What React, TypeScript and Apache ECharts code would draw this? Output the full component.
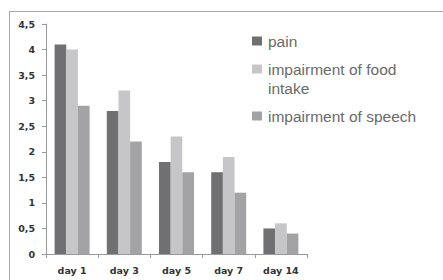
import React, { useEffect, useRef } from "react";
import * as echarts from "echarts";

const categories = ["day 1", "day 3", "day 5", "day 7", "day 14"];
const seriesNames = ["pain", "impairment of food intake", "impairment of speech"];
const legendLines = [["pain"], ["impairment of food", "intake"], ["impairment of speech"]];
const pain = [4.1, 2.8, 1.8, 1.6, 0.5];
const food = [4.0, 3.2, 2.3, 1.9, 0.6];
const speech = [2.9, 2.2, 1.6, 1.2, 0.4];
const colors = ["#707073", "#c6c6c8", "#a3a3a5"];

export default function App() {
  const ref = useRef<HTMLDivElement>(null);
  useEffect(() => {
    if (!ref.current) return;
    const chart = echarts.init(ref.current, null, { renderer: "svg" });
    const legendTops = [41, 69, 116];
    const graphic: any[] = [
      { type: "line", shape: { x1: 9, y1: 11.5, x2: 443, y2: 11.5 }, style: { stroke: "#a8a8a8", lineWidth: 1 } },
      { type: "line", shape: { x1: 9.5, y1: 11, x2: 9.5, y2: 280 }, style: { stroke: "#a8a8a8", lineWidth: 1 } },
    ];
    legendLines.forEach((lines, i) => {
      graphic.push({
        type: "rect",
        shape: { x: 252, y: legendTops[i] - 4.5, width: 10, height: 9 },
        style: { fill: colors[i] },
      });
      lines.forEach((ln, j) => {
        graphic.push({
          type: "text",
          x: 268,
          y: legendTops[i] + j * 19,
          style: {
            text: ln,
            fill: "#6a6a6a",
            font: "15.5px 'Liberation Sans', Arial, sans-serif",
            verticalAlign: "middle",
            textAlign: "left",
          },
        });
      });
    });
    const data = [pain, food, speech];
    const labelFont = {
      color: "#333",
      fontWeight: "bold" as const,
      fontSize: 9.5,
      fontFamily: "'DejaVu Sans', Verdana, sans-serif",
      margin: 11,
    };
    chart.setOption({
      animation: false,
      grid: { left: 46, top: 24, width: 261, height: 230 },
      xAxis: {
        type: "category",
        data: categories,
        axisLine: { lineStyle: { color: "#999" } },
        axisTick: { show: true, length: 4, lineStyle: { color: "#999" } },
        axisLabel: { ...labelFont },
      },
      yAxis: {
        type: "value",
        min: 0,
        max: 4.5,
        interval: 0.5,
        splitLine: { show: false },
        axisLine: { show: true, lineStyle: { color: "#999" } },
        axisTick: { show: true, length: 4, lineStyle: { color: "#999" } },
        axisLabel: {
          ...labelFont,
          formatter: (v: number) => String(v).replace(".", ","),
        },
      },
      series: data.map((d, i) => ({
        name: seriesNames[i],
        type: "bar",
        data: d,
        barGap: "0%",
        barCategoryGap: "33%",
        itemStyle: { color: colors[i] },
      })),
      graphic,
    });
    return () => chart.dispose();
  }, []);
  return (
    <div
      ref={ref}
      style={{ position: "fixed", left: 0, top: 0, width: 443, height: 280, background: "#fff" }}
    />
  );
}
